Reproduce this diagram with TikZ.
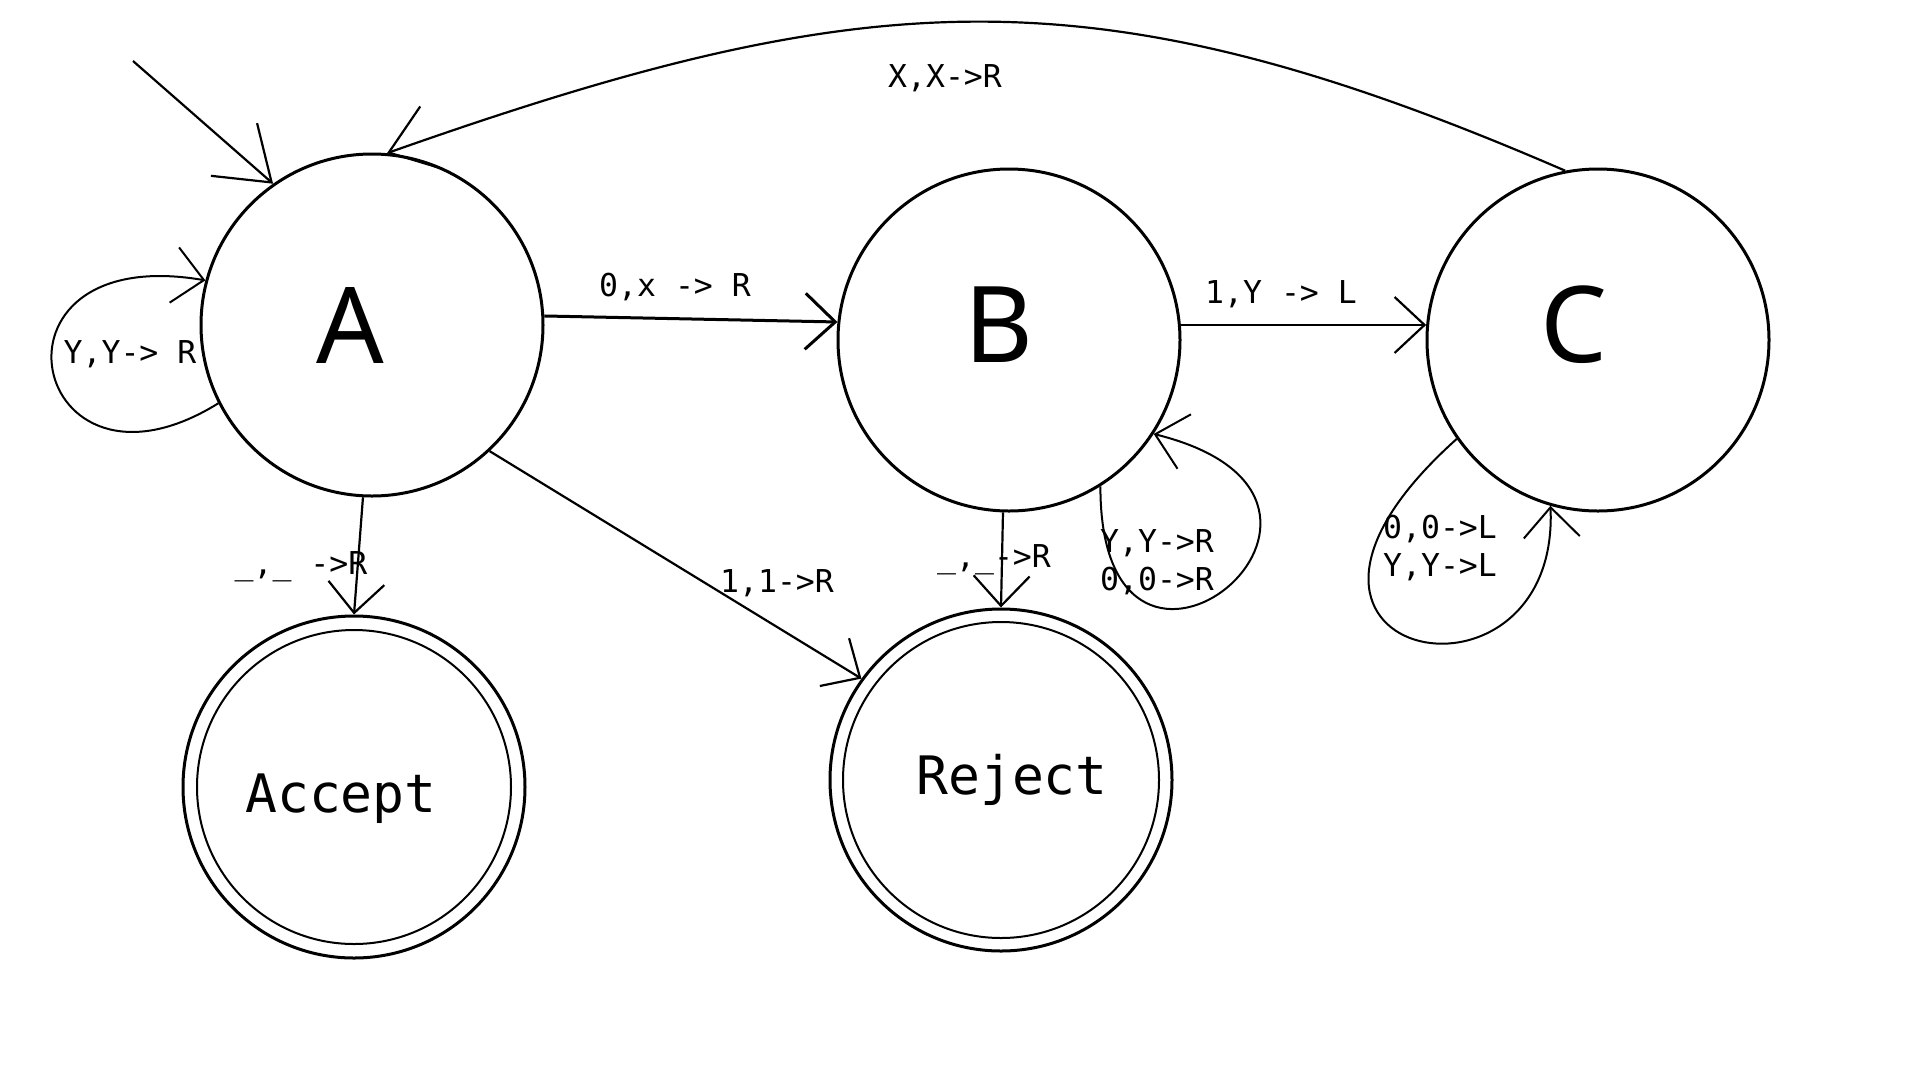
\documentclass[tikz,border=0pt]{standalone}
\usepackage{fontspec}
\setmainfont{Noto Sans}
\setmonofont{DejaVu Sans Mono}
\usetikzlibrary{arrows.meta}

\begin{document}
\begin{tikzpicture}[x=1pt, y=-1pt]
        \useasboundingbox (0,0) rectangle (1920,1080);
        \begin{scope}[state/.style={draw, circle, line width=3pt, minimum size=342pt, inner sep=0pt},
                        letter/.style={font=\fontsize{106}{110}\selectfont},
                        word/.style={font=\ttfamily\fontsize{53}{60}\selectfont}]
                \node[state, label={[letter, xshift=-22pt]center:A}] (A) at (372,325) {};
                \node[state, label={[letter, xshift=-10pt, yshift=15pt]center:B}] (B) at (1009,340) {};
                \node[state, label={[letter, xshift=-24pt, yshift=15pt]center:C}] (C) at (1598,340) {};
                \node[state, label={[word, xshift=-13pt, yshift=-12pt]center:Accept}] (Acc) at (354,787) {};
                \draw[line width=2pt] (Acc) circle [radius=157];
                \node[state, label={[word, xshift=11pt]center:Reject}] (Rej) at (1001,780) {};
                \draw[line width=2pt] (Rej) circle [radius=158];
        \end{scope}
        \coordinate (I) at (133,61);
        \begin{scope}[every node/.style={inner sep=0pt, anchor=base, font=\ttfamily\fontsize{31.5}{38.5}\selectfont}]
                \node (lCA) at (945,87) {X,X->R};
                \node (lAB) at (675,296) {0,x -> R};
                \node (lBC) at (1281,303) {1,Y -> L};
                \node (lAA) at (130,363) {Y,Y-> R};
                \node (lAAcc) at (301,574) {\_,\_ ->R};
                \node (lARej) at (777,592) {1,1->R};
                \node (lBRej) at (994,567) {\_,\_->R};
                \node[anchor=center, align=left] (lBB) at (1157,562) {Y,Y->R\\0,0->R};
                \node[anchor=center, align=left] (lCC) at (1440,548) {0,0->L\\Y,Y->L};
        \end{scope}
        \begin{scope}[every path/.style={line width=2.2pt, ->, >={Straight Barb[length=30pt, width=56pt]}}]
                \path (I) edge [>={Straight Barb[length=50pt, width=70pt]}] (A.125);
                \path (A.3) edge [line width=3pt] (B.174);
                \path (B.5) edge (C.175);
                \path (A.267) edge (Acc.90);
                \path (A.-47) edge (Rej.144);
                \path (B.268) edge (Rej.90);
                \draw[>={Straight Barb[length=45pt, width=66pt]}] (C.101) .. controls (1095,-33) and (869,-17) .. (A.85);
                \draw[line width=2pt] (A.207) .. controls (30,520) and (-30,240) .. (A.165);
                \draw[line width=2pt] (B.-58) .. controls (1100,760) and (1420,500) .. (B.-33);
                \draw[line width=2pt] (C.215) .. controls (1210,660) and (1560,730) .. (C.254);
        \end{scope}
\end{tikzpicture}
\end{document}
